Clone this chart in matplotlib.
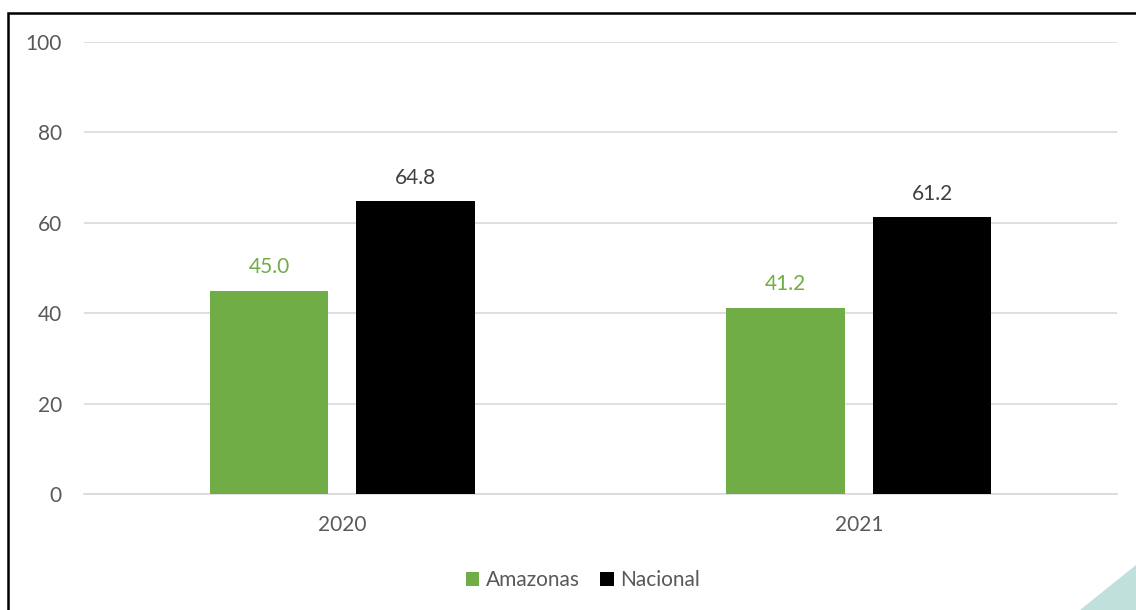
import matplotlib.pyplot as plt
from matplotlib.patches import Rectangle, Polygon
import numpy as np

# Dados do gráfico
anos = ['2020', '2021']
amazonas = [45.0, 41.2]
nacional = [64.8, 61.2]

plt.rcParams['font.family'] = ['Lato', 'DejaVu Sans']

fig = plt.figure(figsize=(11.36, 6.10), dpi=100)
ax = fig.add_axes([84 / 1136, 1 - 494 / 610, (1117 - 84) / 1136, (494 - 42) / 610])

x = np.arange(len(anos))
largura = 0.229
desloc = 0.142

b1 = ax.bar(x - desloc, amazonas, largura, color='#70ad47', label='Amazonas', zorder=3)
b2 = ax.bar(x + desloc, nacional, largura, color='#000000', label='Nacional', zorder=3)

# Rótulos dos valores
for rect, v in zip(b1, amazonas):
    ax.text(rect.get_x() + rect.get_width() / 2, v + 3.0, f'{v:.1f}',
            ha='center', va='bottom', fontsize=15, color='#70ad47')
for rect, v in zip(b2, nacional):
    ax.text(rect.get_x() + rect.get_width() / 2, v + 3.0, f'{v:.1f}',
            ha='center', va='bottom', fontsize=15, color='#404040')

ax.set_xlim(-0.5, 1.5)
ax.set_ylim(0, 100)
ax.set_yticks([0, 20, 40, 60, 80, 100])
ax.set_xticks(x)
ax.set_xticklabels(anos)
ax.tick_params(axis='both', length=0, labelsize=15, labelcolor='#595959')
ax.tick_params(axis='y', pad=16)
ax.tick_params(axis='x', pad=15)
ax.grid(axis='y', color='#d9d9d9', linewidth=1.2, zorder=0)
for s in ['top', 'right', 'left']:
    ax.spines[s].set_visible(False)
ax.spines['bottom'].set_color('#d9d9d9')
ax.spines['bottom'].set_linewidth(1.2)

fig.legend(handles=[b1, b2], loc='center', bbox_to_anchor=(583 / 1136, 1 - 580 / 610),
           ncol=2, frameon=False, fontsize=15, labelcolor='#595959',
           handlelength=0.65, handleheight=0.65, handletextpad=0.3, columnspacing=1.0)

# Moldura e detalhe decorativo
fig.patches.append(Rectangle((7.5 / 1136, -0.05), 1.2, 1 - 13 / 610 + 0.05,
                             transform=fig.transFigure, fill=False,
                             edgecolor='black', linewidth=1.8))
fig.patches.append(Polygon([(1080 / 1136, 0), (1, 0), (1, 1 - 565 / 610)],
                           closed=True, transform=fig.transFigure,
                           facecolor='#c0e0dc', edgecolor='none'))

fig.savefig('out.png', dpi=100)
